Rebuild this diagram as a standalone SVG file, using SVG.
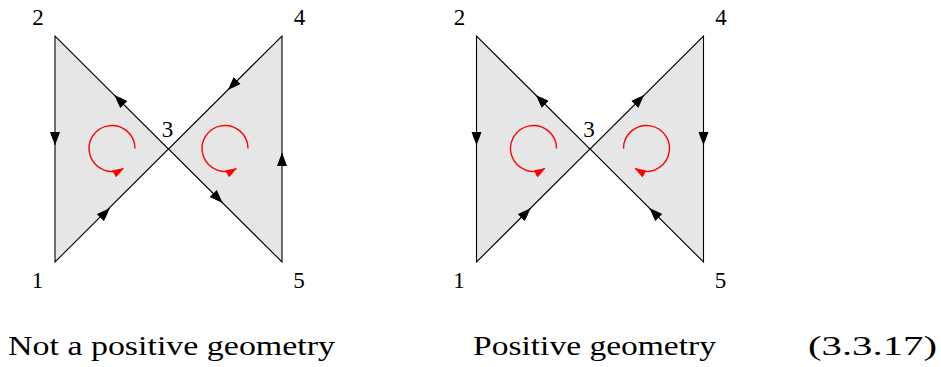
<svg xmlns="http://www.w3.org/2000/svg" width="941" height="367" viewBox="0 0 941 367">
<style>
.region{fill:#e6e6e6;stroke:#000;stroke-width:1.1;stroke-linejoin:miter}
.tip{fill:none;stroke:#000;stroke-width:1.1;marker-end:url(#arr)}
.loop{fill:none;stroke:#ff0000;stroke-width:1.4;marker-end:url(#rarr)}
.t{font-family:'Liberation Serif','DejaVu Serif',serif;fill:#000}
</style>
<defs>
<marker id="arr" markerUnits="userSpaceOnUse" viewBox="-13 -5.5 14 11" refX="0" refY="0" markerWidth="14" markerHeight="11" orient="auto">
<path d="M0,0 Q-6,-2.6 -13,-5 L-13,5 Q-6,2.6 0,0 Z" fill="#000"/>
</marker>
<marker id="rarr" markerUnits="userSpaceOnUse" viewBox="-11 -4.5 12 9" refX="0" refY="0" markerWidth="12" markerHeight="9" orient="auto">
<path d="M0,0 Q-5,-2.2 -11,-4 L-11,4 Q-5,2.2 0,0 Z" fill="#ff0000"/>
</marker>
</defs>

<g id="fig-left">
<polygon class="region" points="55,36 55,262 168.5,149"/>
<polygon class="region" points="282,36 282,262 168.5,149"/>
</g>
<g id="fig-right">
<polygon class="region" points="476.5,36 476.5,262 590,149"/>
<polygon class="region" points="703.5,36 703.5,262 590,149"/>
</g>

<g id="connectors">
<path class="tip" d="M55,139 L55,145"/>
<path class="tip" d="M104.7,213.3 L109.6,208.4"/>
<path class="tip" d="M119.5,100.2 L114.6,95.3"/>
<path class="tip" d="M233,84.8 L228.1,89.7"/>
<path class="tip" d="M217.5,197.8 L222.4,202.7"/>
<path class="tip" d="M282,159 L282,153"/>
<path class="tip" d="M476.5,139 L476.5,145"/>
<path class="tip" d="M525.5,213.3 L530.4,208.4"/>
<path class="tip" d="M541,100.2 L536.1,95.3"/>
<path class="tip" d="M639,100.2 L643.9,95.3"/>
<path class="tip" d="M703.5,139 L703.5,145"/>
<path class="tip" d="M654.5,213.2 L649.6,208.3"/>
</g>

<g id="orientation-loops">
<path class="loop" d="M135,148.5 A23,23 0 1 0 123.5,168.4"/>
<path class="loop" d="M248,148.5 A23,23 0 1 0 236.5,168.4"/>
<path class="loop" d="M556.5,148.5 A23,23 0 1 0 545,168.4"/>
<path class="loop" d="M623.5,148.5 A23,23 0 1 1 635,168.4"/>
</g>

<g id="labels-left" class="t" font-size="23" text-anchor="middle">
<text x="38" y="25">2</text>
<text x="37.5" y="288">1</text>
<text x="167.5" y="136.5">3</text>
<text x="299.5" y="25">4</text>
<text x="299" y="288">5</text>
</g>
<g id="labels-right" class="t" font-size="23" text-anchor="middle">
<text x="459.5" y="25">2</text>
<text x="459" y="288">1</text>
<text x="589" y="136.5">3</text>
<text x="721" y="25">4</text>
<text x="720.5" y="288">5</text>
</g>

<g id="captions" class="t" font-size="27.5">
<text x="8" y="355" textLength="327" lengthAdjust="spacingAndGlyphs">Not a positive geometry</text>
<text x="473" y="355" textLength="243" lengthAdjust="spacingAndGlyphs">Positive geometry</text>
<text x="808" y="355" textLength="129" lengthAdjust="spacingAndGlyphs">(3.3.17)</text>
</g>
</svg>
